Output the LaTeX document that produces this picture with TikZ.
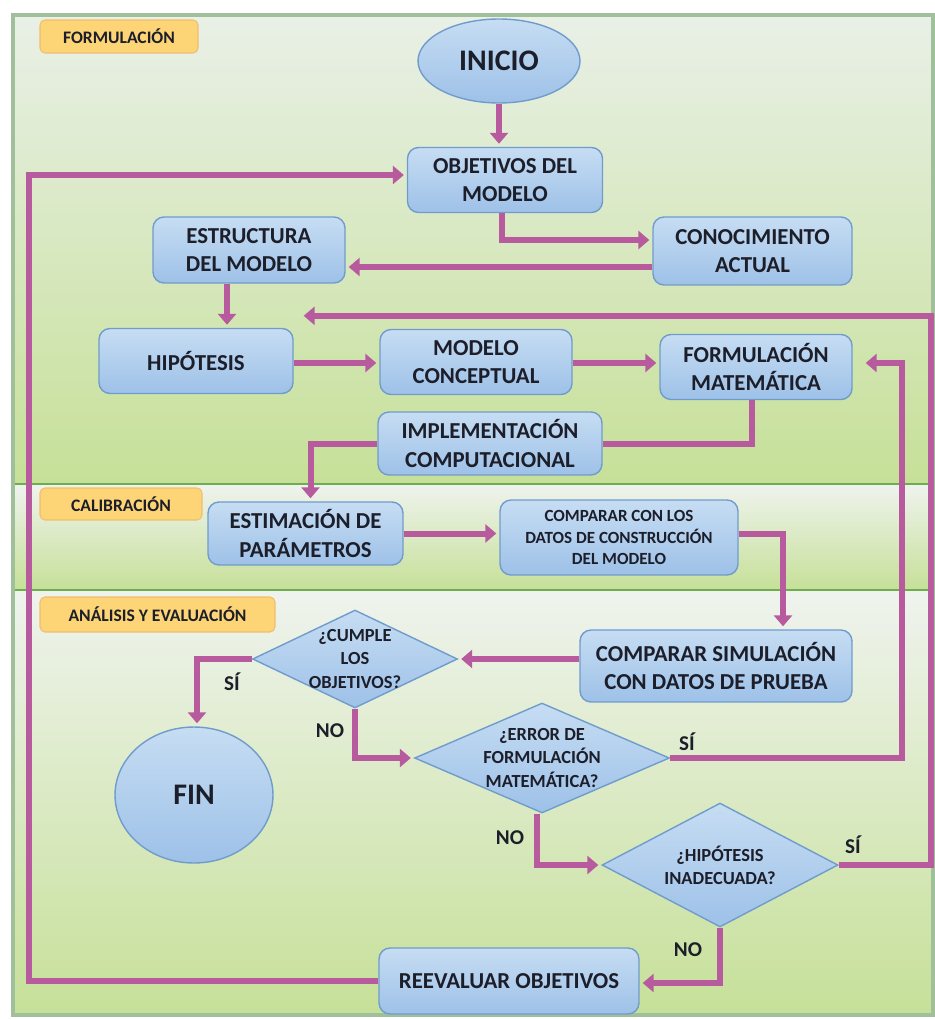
\documentclass[tikz,border=0pt]{standalone}
\usepackage{fontspec}
\setmainfont{Carlito}
\usetikzlibrary{shapes.geometric,arrows.meta,calc}
\definecolor{textc}{RGB}{28,30,42}
\definecolor{boxtop}{RGB}{198,221,243}
\definecolor{boxbot}{RGB}{158,193,232}
\definecolor{boxline}{RGB}{112,156,204}
\definecolor{tagfill}{RGB}{253,212,118}
\definecolor{tagline}{RGB}{240,190,110}
\definecolor{flujo}{RGB}{184,90,158}
\definecolor{fondoa}{RGB}{233,240,231}
\definecolor{fondob}{RGB}{198,224,152}
\definecolor{fondoc}{RGB}{239,243,238}
\definecolor{separa}{RGB}{110,172,82}
\definecolor{marco}{RGB}{160,192,156}
\tikzset{
  caja/.style={rectangle, rounded corners=0.22cm, draw=boxline, line width=0.8pt,
    top color=boxtop, bottom color=boxbot, align=center, text=textc, inner sep=0pt,
    font=\fontsize{13}{16}\selectfont\bfseries},
  elipse/.style={ellipse, draw=boxline, line width=0.8pt, top color=boxtop,
    bottom color=boxbot, text=textc, inner sep=0pt, font=\fontsize{17}{20}\selectfont\bfseries},
  decision/.style={diamond, draw=boxline, line width=0.8pt, top color=boxtop,
    bottom color=boxbot, align=center, text=textc, inner sep=-3pt, aspect=2,
    font=\fontsize{10.5}{13.3}\selectfont\bfseries},
  etiqueta/.style={rectangle, rounded corners=0.1cm, draw=tagline, line width=0.6pt,
    fill=tagfill, text=textc, font=\fontsize{10}{12}\selectfont\bfseries},
  flecha/.style={draw=flujo, line width=0.12cm, -{Triangle[length=0.22cm,width=0.36cm]},
    shorten >=0.06cm},
  linea/.style={draw=flujo, line width=0.12cm},
  rotulo/.style={text=textc, font=\fontsize{12}{14}\selectfont\bfseries}
}
\begin{document}
\begin{tikzpicture}[x=0.02cm, y=-0.02cm]
  \useasboundingbox (0,0) rectangle (935,1020);
  \shade[top color=fondoa, bottom color=fondob] (13,15) rectangle (933,484);
  \shade[top color=fondoc, bottom color=fondob] (13,484) rectangle (933,590);
  \shade[top color=fondoc, bottom color=fondob] (13,590) rectangle (933,1015);
  \draw[separa, line width=1.6pt] (13,484) -- (933,484);
  \draw[separa, line width=1.6pt] (13,590) -- (933,590);
  \draw[marco, line width=2pt] (13,15) rectangle (933,1015);

  \node[etiqueta, minimum width=3.16cm, minimum height=0.66cm] (tagform) at (119,36.5) {FORMULACIÓN};
  \node[etiqueta, minimum width=3.24cm, minimum height=0.64cm] (tagcal) at (121,504) {CALIBRACIÓN};
  \node[etiqueta, minimum width=4.7cm, minimum height=0.7cm] (taganal) at (157.5,614.5) {ANÁLISIS Y EVALUACIÓN};

  \node[elipse, minimum width=3.24cm, minimum height=1.68cm] (inicio) at (499,61) {INICIO};
  \node[caja, minimum width=3.9cm, minimum height=1.3cm] (objetivos) at (505,180) {OBJETIVOS DEL\\MODELO};
  \node[caja, minimum width=3.98cm, minimum height=1.36cm] (conoc) at (752.5,251) {CONOCIMIENTO\\ACTUAL};
  \node[caja, minimum width=3.84cm, minimum height=1.32cm] (estruct) at (249,250) {ESTRUCTURA\\DEL MODELO};
  \node[caja, minimum width=3.88cm, minimum height=1.3cm] (hip) at (196,361) {HIPÓTESIS};
  \node[caja, minimum width=3.84cm, minimum height=1.3cm] (modcon) at (476,362) {MODELO\\CONCEPTUAL};
  \node[caja, minimum width=3.84cm, minimum height=1.3cm] (formmat) at (756,367) {FORMULACIÓN\\MATEMÁTICA};
  \node[caja, minimum width=4.48cm, minimum height=1.26cm] (impl) at (490,443.5) {IMPLEMENTACIÓN\\COMPUTACIONAL};
  \node[caja, minimum width=3.9cm, minimum height=1.26cm] (estim) at (305.5,533.5) {ESTIMACIÓN DE\\PARÁMETROS};
  \node[caja, minimum width=4.76cm, minimum height=1.5cm, font=\fontsize{9.7}{12}\selectfont\bfseries] (compdat) at (619,537.5) {COMPARAR CON LOS\\DATOS DE CONSTRUCCIÓN\\DEL MODELO};
  \node[caja, minimum width=5.44cm, minimum height=1.44cm] (compsim) at (716,666) {COMPARAR SIMULACIÓN\\CON DATOS DE PRUEBA};
  \node[decision, minimum width=4.1cm, minimum height=1.96cm] (cumple) at (355,659) {¿CUMPLE\\LOS\\OBJETIVOS?};
  \node[elipse, minimum width=3.16cm, minimum height=2.72cm] (fin) at (194,795) {FIN};
  \node[decision, minimum width=5.1cm, minimum height=2.2cm] (error) at (542,758) {¿ERROR DE\\FORMULACIÓN\\MATEMÁTICA?};
  \node[decision, minimum width=4.72cm, minimum height=2.48cm] (hipin) at (720,865) {¿HIPÓTESIS\\INADECUADA?};
  \node[caja, minimum width=5.2cm, minimum height=1.32cm] (reeval) at (509,981) {REEVALUAR OBJETIVOS};

  \node[rotulo] (si1) at (232,682) {SÍ};
  \node[rotulo] (no1) at (330,731) {NO};
  \node[rotulo] (si2) at (687,742) {SÍ};
  \node[rotulo] (no2) at (510,838) {NO};
  \node[rotulo] (si3) at (853,845) {SÍ};
  \node[rotulo] (no3) at (688,950) {NO};

  \coordinate (hipent) at ($(hip.north east)+(7,-12)$);

  \draw[flecha] (inicio.south) -- (inicio.south |- objetivos.north);
  \draw[flecha] ($(objetivos.south)+(-3,0)$) |- ($(conoc.west)+(0,-11)$);
  \draw[flecha] ($(conoc.west)+(0,16)$) coordinate (c1) -- (c1 -| estruct.east);
  \draw[flecha] ($(estruct.south)+(-22,0)$) coordinate (c2) -- (c2 |- hip.north);
  \draw[flecha] ($(hip.east)+(0,2)$) coordinate (c3) -- (c3 -| modcon.west);
  \draw[flecha] ($(modcon.east)+(0,1)$) coordinate (c4) -- (c4 -| formmat.west);
  \draw[linea] ($(formmat.south)+(-4,0)$) |- (impl.east);
  \draw[flecha] (impl.west) -| ($(estim.north)+(5,0)$);
  \draw[flecha] (estim.east) -- (estim.east -| compdat.west);
  \draw[flecha] ($(compdat.east)+(0,-4)$) -| ($(compsim.north)+(67,0)$);
  \draw[flecha] (cumple.east -| compsim.west) -- (cumple.east);
  \draw[flecha] (cumple.west) -| ($(fin.north)+(3,0)$);
  \draw[flecha] (cumple.south) |- (error.west);
  \draw[flecha] ($(error.south)+(-5,0)$) |- (hipin.west);
  \draw[flecha] (error.east) -- ++(232,0) |- ($(formmat.east)+(10,-4)$);
  \draw[flecha] (hipin.east) -- ++(92,0) |- (hipent);
  \draw[flecha] (hipin.south) |- ($(reeval.east)+(0,2)$);
  \draw[flecha] (reeval.west) -- ++(-349,0) |- ($(objetivos.west)+(0,-5)$);
\end{tikzpicture}
\end{document}
